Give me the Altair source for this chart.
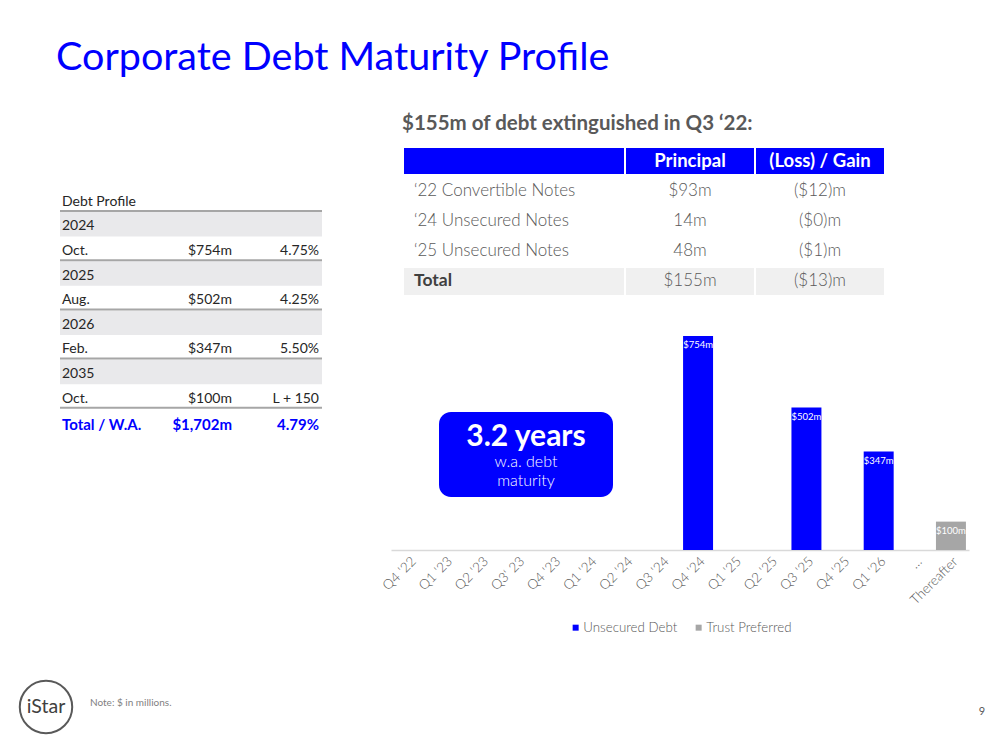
import altair as alt
import pandas as pd

# ---------------- data ----------------
categories = ["Q4 ‘22", "Q1 ‘23", "Q2 ‘23", "Q3‘ 23", "Q4 ‘23", "Q1 ‘24", "Q2 ‘24", "Q3 ‘24",
              "Q4 ‘24", "Q1 ‘25", "Q2 ‘25", "Q3 ‘25", "Q4 ‘25", "Q1 ‘26", "…", "Thereafter"]
unsecured_debt = [0, 0, 0, 0, 0, 0, 0, 0, 754, 0, 0, 502, 0, 347, 0, 0]
trust_preferred = [0, 0, 0, 0, 0, 0, 0, 0, 0, 0, 0, 0, 0, 0, 0, 100]
series_names = ["Unsecured Debt", "Trust Preferred"]

title_text = "Corporate Debt Maturity Profile"
ext_title = "$155m of debt extinguished in Q3 ‘22:"
ext_headers = ["Principal", "(Loss) / Gain"]
ext_items = ["‘22 Convertible Notes", "‘24 Unsecured Notes", "‘25 Unsecured Notes"]
ext_principal = ["$93m", "14m", "48m"]
ext_loss = ["($12)m", "($0)m", "($1)m"]
ext_total = ["Total", "$155m", "($13)m"]

dp_title = "Debt Profile"
dp_labels = ["2024", "Oct.", "2025", "Aug.", "2026", "Feb.", "2035", "Oct."]
dp_amounts = ["", "$754m", "", "$502m", "", "$347m", "", "$100m"]
dp_rates = ["", "4.75%", "", "4.25%", "", "5.50%", "", "L + 150"]
dp_total = ["Total / W.A.", "$1,702m", "4.79%"]

box_lines = ["3.2 years", "w.a. debt", "maturity"]
note_text = "Note: $ in millions."
logo_text = "iStar"
page_number = "9"

# ---------------- layout / style ----------------
BLUE = "#0000ff"
GREY_BAR = "#a6a6a6"
TXT = "#595959"
DARK = "#262626"
FONT = "Lato"
OX, OY = 391, 336      # plot origin on the page
PW, PH = 578, 214      # plot size


def px(x):
    return x - OX


def py(y):
    return y - OY


def text_layer(items, **mark):
    df = pd.DataFrame(items, columns=["x", "y", "t"])
    return alt.Chart(df).mark_text(font=FONT, **mark).encode(
        x=alt.X("x:Q", scale=None, axis=None),
        y=alt.Y("y:Q", scale=None, axis=None),
        text="t:N",
    )


def rect_layer(items, **mark):
    df = pd.DataFrame(items, columns=["x", "x2", "y", "y2"])
    return alt.Chart(df).mark_rect(**mark).encode(
        x=alt.X("x:Q", scale=None, axis=None), x2="x2:Q",
        y=alt.Y("y:Q", scale=None, axis=None), y2="y2:Q",
    )


def rule_layer(items, **mark):
    df = pd.DataFrame(items, columns=["x", "x2", "y"])
    return alt.Chart(df).mark_rule(**mark).encode(
        x=alt.X("x:Q", scale=None, axis=None), x2="x2:Q",
        y=alt.Y("y:Q", scale=None, axis=None),
    )


# ---------------- bar chart ----------------
rows = []
for cat, u, t in zip(categories, unsecured_debt, trust_preferred):
    if u:
        rows.append({"cat": cat, "series": series_names[0], "value": u, "label": f"${u}m"})
    if t:
        rows.append({"cat": cat, "series": series_names[1], "value": t, "label": f"${t}m"})
bars_df = pd.DataFrame(rows)

xscale = alt.Scale(domain=categories, paddingInner=0.17, paddingOuter=0.085)
yscale = alt.Scale(domain=[0, 754], nice=False)

bars = alt.Chart(bars_df).mark_bar().encode(
    x=alt.X("cat:N", scale=xscale, sort=categories, title=None,
            axis=alt.Axis(labelAngle=-45, labelColor=TXT, labelFont=FONT, labelFontSize=13.5,
                          labelFontWeight=300, ticks=False, domainColor="#d9d9d9", domainWidth=1.5,
                          labelPadding=4, grid=False)),
    y=alt.Y("value:Q", scale=yscale, axis=None),
    color=alt.Color("series:N", scale=alt.Scale(domain=series_names, range=[BLUE, GREY_BAR]),
                    legend=alt.Legend(orient="none", legendX=178, legendY=285, direction="horizontal",
                                      title=None, symbolType="square", symbolSize=36,
                                      symbolStrokeWidth=0, labelFont=FONT, labelFontSize=13.3,
                                      labelFontWeight=300, labelColor=TXT, labelOffset=1,
                                      columnPadding=14)),
)
bar_labels = alt.Chart(bars_df).mark_text(dy=9, color="white", fontSize=9.5, font=FONT).encode(
    x=alt.X("cat:N", scale=xscale, sort=categories, axis=None),
    y=alt.Y("value:Q", scale=yscale, axis=None),
    text="label:N",
)

layers = [bars, bar_labels]

# ---------------- title ----------------
layers.append(text_layer([(px(56), py(58), title_text)], align="left", fontSize=39.5, color=BLUE))

# ---------------- extinguished table ----------------
col_edges = [(404, 624), (626, 754), (756, 884)]
layers.append(text_layer([(px(402), py(124), ext_title)], align="left", fontSize=20.5,
                         fontWeight="bold", color=TXT))
layers.append(rect_layer([(px(a), px(b), py(148), py(174)) for a, b in col_edges], color=BLUE))
layers.append(rect_layer([(px(a), px(b), py(268), py(295)) for a, b in col_edges], color="#f0f0f0"))
layers.append(text_layer([(px(690), py(161), ext_headers[0]), (px(820), py(161), ext_headers[1])],
                         fontSize=18.5, fontWeight="bold", color="white"))
ext_rows = []
for i, a in enumerate(ext_items):
    y = 191 + 30 * i
    ext_rows.append((px(414), py(y), a))
layers.append(text_layer(ext_rows, align="left", fontSize=17, fontWeight=300, color=TXT))
ext_vals = []
for i, (b, c) in enumerate(zip(ext_principal, ext_loss)):
    y = 191 + 30 * i
    ext_vals += [(px(690), py(y), b), (px(820), py(y), c)]
ext_vals += [(px(690), py(281), ext_total[1]), (px(820), py(281), ext_total[2])]
layers.append(text_layer(ext_vals, fontSize=17, fontWeight=300, color=TXT))
layers.append(text_layer([(px(414), py(281), ext_total[0])], align="left", fontSize=17.5,
                         fontWeight="bold", color="#404040"))

# ---------------- debt profile table ----------------
ROW0, STEP = 212, 24.6
shade = []
lines = [(px(60), px(322), py(211))]
for i in range(len(dp_labels)):
    top = ROW0 + i * STEP
    if i % 2 == 0:
        shade.append((px(60), px(322), py(top), py(top + STEP)))
    else:
        lines.append((px(60), px(322), py(top + STEP - 1)))
layers.append(rect_layer(shade, color="#e9e9eb"))
layers.append(rule_layer(lines, color="#a6a6a6", strokeWidth=2))
layers.append(text_layer([(px(62), py(202), dp_title)], align="left", fontSize=14, color=DARK))
lab, amt, rate = [], [], []
for i, (a, b, c) in enumerate(zip(dp_labels, dp_amounts, dp_rates)):
    y = ROW0 + i * STEP + STEP / 2 + 2
    lab.append((px(62), py(y), a))
    if b:
        amt.append((px(232), py(y), b))
    if c:
        rate.append((px(319), py(y), c))
layers.append(text_layer(lab, align="left", fontSize=14, color=DARK))
layers.append(text_layer(amt + rate, align="right", fontSize=14, color=DARK))
layers.append(text_layer([(px(62), py(425), dp_total[0])], align="left", fontSize=15,
                         fontWeight="bold", color=BLUE))
layers.append(text_layer([(px(232), py(425), dp_total[1]), (px(319), py(425), dp_total[2])],
                         align="right", fontSize=15, fontWeight="bold", color=BLUE))

# ---------------- maturity box ----------------
layers.append(rect_layer([(px(439), px(613), py(412), py(497))], color=BLUE, cornerRadius=12))
layers.append(text_layer([(px(526), py(437), box_lines[0])], fontSize=30, fontWeight="bold",
                         color="white"))
layers.append(text_layer([(px(526), py(462), box_lines[1]), (px(526), py(481), box_lines[2])],
                         fontSize=16, fontWeight=300, color="white"))

# ---------------- footer ----------------
logo_df = pd.DataFrame({"x": [px(46)], "y": [py(707)]})
layers.append(alt.Chart(logo_df).mark_point(shape="circle", size=2750, filled=False,
                                            color="#595959", strokeWidth=2, opacity=1).encode(
    x=alt.X("x:Q", scale=None, axis=None), y=alt.Y("y:Q", scale=None, axis=None)))
layers.append(text_layer([(px(46), py(707), logo_text)], fontSize=19.5, color="#404040"))
layers.append(text_layer([(px(90), py(703), note_text)], align="left", fontSize=10,
                         color="#7f7f7f"))
layers.append(text_layer([(px(982), py(712), page_number)], fontSize=11, color=TXT))

chart = alt.layer(*layers).resolve_scale(
    x="independent", y="independent"
).properties(
    width=PW, height=PH, autosize="none",
    padding={"left": OX - 8, "top": OY - 8, "right": 983 - (OX - 8) - PW, "bottom": 734 - (OY - 8) - PH},
    background="white",
).configure_view(stroke=None)

chart.save("out.html", embed_options={"renderer": "svg", "actions": False})
